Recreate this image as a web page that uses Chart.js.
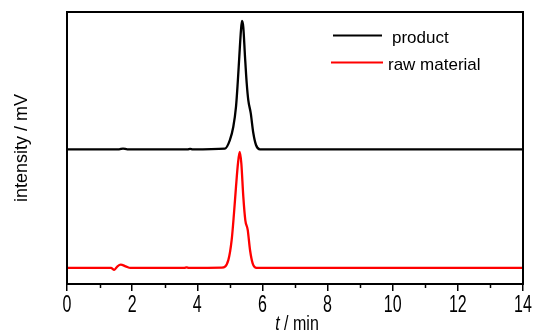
<!DOCTYPE html>
<html>
<head>
<meta charset="utf-8">
<script src="https://cdn.jsdelivr.net/npm/chart.js@4/dist/chart.umd.min.js"></script>
<style>
  body { margin: 0; background: #fff; }
  #wrap { width: 533px; height: 332px; }
</style>
</head>
<body>
<div id="wrap"><canvas id="chromatogram"></canvas></div>
<script>
// retention time (min) and signal for each trace
var tProduct = [0, 1.6, 1.72, 1.85, 3.7, 3.78, 3.86, 4.85, 5.00, 5.106, 5.189, 5.241, 5.290, 5.342, 5.373, 5.413, 5.465, 5.517, 5.566, 5.640, 5.720, 5.803, 5.925, 14];
var yProduct = [49.5, 49.5, 49.8, 49.5, 49.5, 49.7, 49.5, 49.8, 52.9, 57.8, 65.2, 73.9, 83.6, 93.4, 96.7, 94.4, 83.6, 73.9, 67.6, 62.9, 55.5, 51.1, 49.5, 49.5];

var tRaw = [0, 1.35, 1.45, 1.55, 1.65, 1.8, 1.95, 3.6, 3.67, 3.74, 4.75, 4.953, 5.056, 5.127, 5.189, 5.25, 5.302, 5.352, 5.413, 5.474, 5.548, 5.619, 5.70, 5.82, 14];
var yRaw = [5.9, 5.9, 5.2, 6.5, 7.1, 6.5, 5.9, 5.9, 6.1, 5.9, 6.0, 8.8, 16.2, 26.0, 35.8, 44.4, 48.6, 44.4, 32.1, 23.5, 19.9, 12.5, 7.6, 5.9, 5.9];

var seriesNames = ['product', 'raw material'];
var seriesColors = ['#000000', '#ff0000'];
var xTickValues = [0, 2, 4, 6, 8, 10, 12, 14];

function toPoints(xs, ys) {
    var pts = [];
    for (var i = 0; i < xs.length; i++) pts.push({x: xs[i], y: ys[i]});
    return pts;
}

// frame, minor ticks, stretched tick labels, x title and legend
var decorations = {
    id: 'decorations',
    afterDraw: function(chart) {
        var ctx = chart.ctx;
        var area = chart.chartArea;
        var xs = chart.scales.x;
        ctx.save();

        ctx.strokeStyle = '#000';
        ctx.lineWidth = 2;
        ctx.strokeRect(area.left, area.top, area.right - area.left, area.bottom - area.top);

        // minor ticks at odd minutes
        ctx.lineWidth = 1.5;
        for (var m = 1; m < 14; m += 2) {
            var mx = Math.round(xs.getPixelForValue(m)) + 0.5;
            ctx.beginPath();
            ctx.moveTo(mx, area.bottom);
            ctx.lineTo(mx, area.bottom + 4);
            ctx.stroke();
        }

        // tick labels (tall, narrow like the original)
        ctx.fillStyle = '#000';
        ctx.font = '16px "Liberation Sans", Arial, sans-serif';
        ctx.textAlign = 'center';
        ctx.textBaseline = 'alphabetic';
        xTickValues.forEach(function(v) {
            ctx.save();
            ctx.translate(xs.getPixelForValue(v), 312);
            ctx.scale(1, 1.5);
            ctx.fillText(String(v), 0, 0);
            ctx.restore();
        });

        // x axis title with italic t
        ctx.save();
        var cx = (area.left + area.right) / 2 + 2;
        ctx.translate(0, 330);
        ctx.scale(1, 1.25);
        ctx.textAlign = 'left';
        ctx.font = 'italic 16px "Liberation Sans", Arial, sans-serif';
        var w1 = ctx.measureText('t').width;
        ctx.font = '16px "Liberation Sans", Arial, sans-serif';
        var w2 = ctx.measureText(' / min').width;
        var sx = cx - (w1 + w2) / 2;
        ctx.font = 'italic 16px "Liberation Sans", Arial, sans-serif';
        ctx.fillText('t', sx, 0);
        ctx.font = '16px "Liberation Sans", Arial, sans-serif';
        ctx.fillText(' / min', sx + w1, 0);
        ctx.restore();

        // legend inside the plot
        var legendRows = [
            {x1: 333, x2: 382, y: 35.5, tx: 392, ty: 43},
            {x1: 331, x2: 383, y: 62.5, tx: 388, ty: 70}
        ];
        ctx.font = '17px "Liberation Sans", Arial, sans-serif';
        ctx.textAlign = 'left';
        chart.data.datasets.forEach(function(ds, i) {
            var r = legendRows[i];
            ctx.strokeStyle = ds.borderColor;
            ctx.lineWidth = 2;
            ctx.beginPath();
            ctx.moveTo(r.x1, r.y);
            ctx.lineTo(r.x2, r.y);
            ctx.stroke();
            ctx.fillStyle = '#000';
            ctx.fillText(ds.label, r.tx, r.ty);
        });

        ctx.restore();
    }
};

var ctx = document.getElementById('chromatogram');
var chart = new Chart(ctx, {
    type: 'line',
    data: {
        datasets: [
            {
                label: seriesNames[0],
                data: toPoints(tProduct, yProduct),
                borderColor: seriesColors[0],
                borderWidth: 2.3,
                pointRadius: 0,
                fill: false,
                cubicInterpolationMode: 'monotone'
            },
            {
                label: seriesNames[1],
                data: toPoints(tRaw, yRaw),
                borderColor: seriesColors[1],
                borderWidth: 2.3,
                pointRadius: 0,
                fill: false,
                cubicInterpolationMode: 'monotone'
            }
        ]
    },
    options: {
        responsive: true,
        maintainAspectRatio: false,
        animation: false,
        layout: { padding: { top: 12, right: 10, left: 0, bottom: 0 } },
        plugins: {
            legend: { display: false },
            tooltip: { enabled: false }
        },
        scales: {
            x: {
                type: 'linear',
                min: 0,
                max: 14,
                ticks: {
                    stepSize: 2,
                    callback: function() { return ''; }
                },
                grid: {
                    drawOnChartArea: false,
                    drawTicks: true,
                    tickLength: 7,
                    color: '#000',
                    lineWidth: 1.5
                },
                border: { display: false },
                afterFit: function(scale) { scale.height = 48; }
            },
            y: {
                min: 0,
                max: 100,
                ticks: { display: false },
                grid: { display: false },
                border: { display: false },
                title: {
                    display: true,
                    text: 'intensity / mV',
                    color: '#000',
                    font: { family: '"Liberation Sans", Arial, sans-serif', size: 18 },
                    padding: { top: 11, bottom: 0 }
                },
                afterFit: function(scale) { scale.width = 67; }
            }
        }
    },
    plugins: [decorations]
});
</script>
</body>
</html>
